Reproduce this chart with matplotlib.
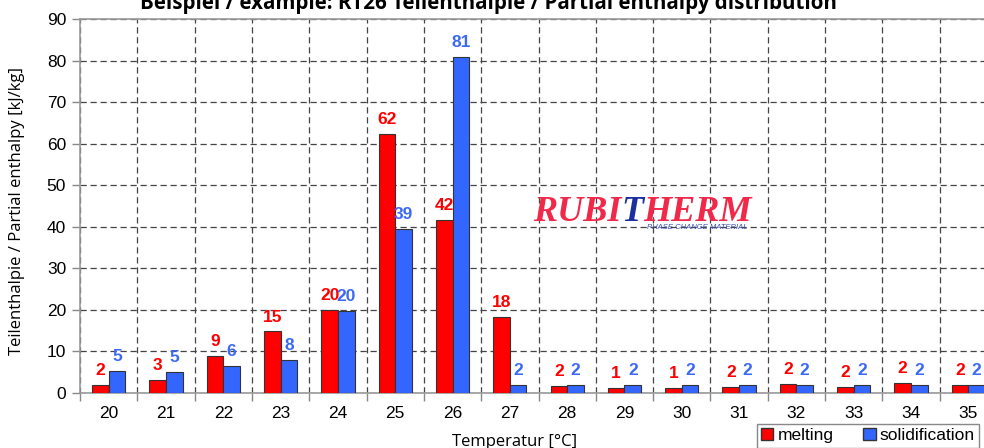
import numpy as np
import matplotlib.pyplot as plt
from matplotlib.patches import Patch

temps = ['20', '21', '22', '23', '24', '25', '26', '27', '28', '29', '30', '31', '32', '33', '34', '35']
melting = [2.0, 3.2, 8.9, 14.8, 19.9, 62.3, 41.6, 18.2, 1.7, 1.3, 1.3, 1.5, 2.2, 1.5, 2.4, 1.9]
solidification = [5.3, 5.1, 6.4, 7.9, 19.7, 39.4, 80.9, 2.0, 2.0, 2.0, 2.0, 2.0, 2.0, 2.0, 2.0, 2.0]

red = '#ff0000'
blue = '#3366ff'
label_blue = '#3d6af5'

plt.rcParams['font.family'] = ['Liberation Sans', 'DejaVu Sans']

fig = plt.figure(figsize=(9.84, 4.48), dpi=100)
ax = fig.add_axes([80 / 984, 1 - 393 / 448, 917 / 984, 374 / 448])

x = np.arange(len(temps))
w = 0.29
b1 = ax.bar(x - w / 2, melting, w, color=red, edgecolor='#333333', linewidth=0.8, zorder=3)
b2 = ax.bar(x + w / 2, solidification, w, color=blue, edgecolor='#333333', linewidth=0.8, zorder=3)

for rect, v in zip(b1, melting):
    ax.annotate(f'{v:.0f}', (rect.get_x() + rect.get_width() / 2, v), xytext=(0, 5),
                textcoords='offset points', ha='center', va='bottom',
                color=red, fontsize=12.5, fontweight='bold', zorder=4)
for rect, v in zip(b2, solidification):
    ax.annotate(f'{v:.0f}', (rect.get_x() + rect.get_width() / 2, v), xytext=(0, 5),
                textcoords='offset points', ha='center', va='bottom',
                color=label_blue, fontsize=12.5, fontweight='bold', zorder=4)

ax.set_xlim(-0.5, 15.5)
ax.set_ylim(0, 90)
ax.set_yticks(range(0, 91, 10))
ax.set_xticks(x)
ax.set_xticklabels(temps)
ax.set_xticks(np.arange(-0.5, 16, 1), minor=True)
ax.tick_params(axis='x', which='major', length=0, pad=9, labelsize=12.5)
ax.tick_params(axis='x', which='minor', length=6, width=1, color='#888888', direction='out')
ax.tick_params(axis='y', length=6, width=1, color='#888888', labelsize=12.5, pad=4)

ax.grid(True, axis='y', which='major', linestyle=(0, (5, 3)), color='#444444', linewidth=0.9, zorder=0)
ax.grid(True, axis='x', which='minor', linestyle=(0, (5, 3)), color='#444444', linewidth=0.9, zorder=0)
ax.grid(False, axis='x', which='major')
for s in ax.spines.values():
    s.set_color('#999999')
    s.set_linewidth(1.2)

fig.text(488 / 984, 1 - 9 / 448, 'Beispiel / example: RT26 Teilenthalpie / Partial enthalpy distribution',
         ha='center', va='baseline', fontsize=14.8, fontweight='bold', family=['Open Sans', 'DejaVu Sans'])
fig.text(17 / 984, 1 - 211 / 448, 'Teilenthalpie / Partial enthalpy [kJ/kg]', rotation=90,
         ha='center', va='center', fontsize=12, family=['Open Sans', 'DejaVu Sans'])
fig.text(515 / 984, 1 - 446 / 448, 'Temperatur [°C]', ha='center', va='baseline',
         fontsize=12, family=['Open Sans', 'DejaVu Sans'])

# logo
logo_font = dict(family=['Liberation Serif', 'DejaVu Serif'], fontsize=26, fontweight='bold', style='italic')
fig.text(533 / 984, 1 - 221 / 448, 'RUBI', color='#f0284a', ha='left', va='baseline', **logo_font)
fig.text(621 / 984, 1 - 221 / 448, 'T', color='#1b2fa0', ha='left', va='baseline', **logo_font)
fig.text(643 / 984, 1 - 221 / 448, 'HERM', color='#f0284a', ha='left', va='baseline', **logo_font)
fig.text(647 / 984, 1 - 229 / 448, 'PHASE CHANGE MATERIAL', color='#3a4db0', ha='left', va='baseline',
         fontsize=5.5, style='italic')

handles = [Patch(facecolor=red, edgecolor='#333333'), Patch(facecolor=blue, edgecolor='#333333')]
fig.legend(handles, ['melting', 'solidification'], loc='upper left', ncol=2,
           bbox_to_anchor=(757 / 984, 1 - 424 / 448), fontsize=12.5, frameon=True,
           fancybox=False, edgecolor='#888888', handlelength=0.7, handleheight=0.7,
           handletextpad=0.25, columnspacing=1.7, borderpad=0.25, borderaxespad=0,
           framealpha=1)

fig.savefig('out.png', dpi=100)
